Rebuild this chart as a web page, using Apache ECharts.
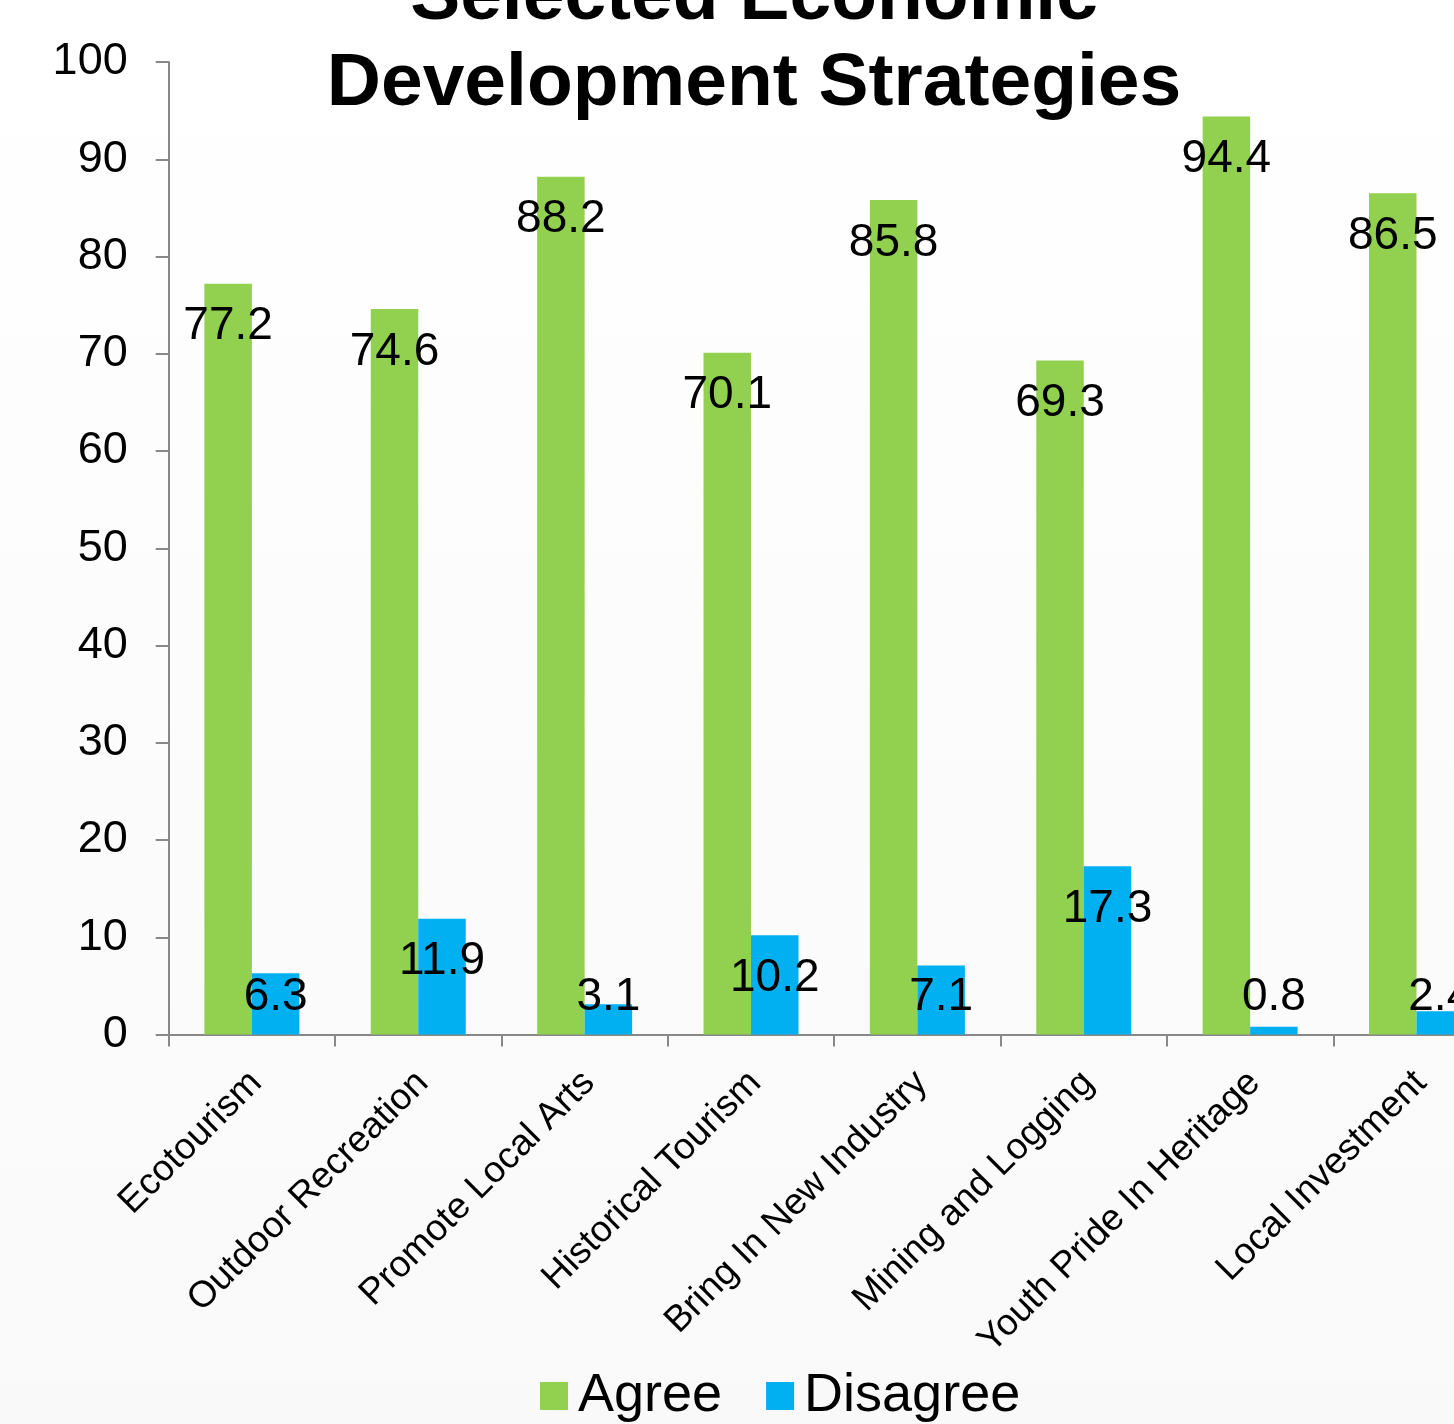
<!DOCTYPE html>
<html>
<head>
<meta charset="utf-8">
<script src="https://cdn.jsdelivr.net/npm/echarts@6/dist/echarts.min.js"></script>
<style>
  html, body { margin: 0; padding: 0; background: #fff; }
  #chart { width: 1454px; height: 1424px; }
</style>
</head>
<body>
<div id="chart"></div>
<script>
// Survey responses on economic development strategies (percent)
const categories = [
  'Ecotourism',
  'Outdoor Recreation',
  'Promote Local Arts',
  'Historical Tourism',
  'Bring In New Industry',
  'Mining and Logging',
  'Youth Pride In Heritage',
  'Local Investment'
];
const agree = [77.2, 74.6, 88.2, 70.1, 85.8, 69.3, 94.4, 86.5];
const disagree = [6.3, 11.9, 3.1, 10.2, 7.1, 17.3, 0.8, 2.4];
const yMin = 0;
const yMax = 100;
const yStep = 10;

const FONT = '"Liberation Sans", Arial, Helvetica, sans-serif';
const AXIS_GREY = '#888888';

const chart = echarts.init(document.getElementById('chart'), null, { renderer: 'canvas' });

// Keep value labels of short bars clear of the category axis
function liftLabel(params) {
  const bottom = params.rect.y + params.rect.height;
  const lr = params.labelRect;
  const centre = lr.y + lr.height / 2;
  const limit = bottom - 37;
  return centre > limit ? { dy: limit - centre } : {};
}

const valueLabel = {
  show: true,
  position: 'insideTop',
  distance: 20,
  color: '#000',
  fontFamily: FONT,
  fontSize: 46,
  formatter: p => p.value.toFixed(1)
};

chart.setOption({
  backgroundColor: new echarts.graphic.LinearGradient(0, 0, 0, 1, [
    { offset: 0, color: '#ffffff' },
    { offset: 1, color: '#f9f9f9' }
  ]),
  animation: false,
  title: {
    text: 'Selected Economic\nDevelopment Strategies',
    left: 754,
    textAlign: 'center',
    top: -45,
    padding: 0,
    textStyle: {
      fontFamily: FONT,
      fontSize: 75,
      fontWeight: 'bold',
      lineHeight: 86,
      color: '#000'
    }
  },
  legend: {
    data: ['Agree', 'Disagree'],
    left: 535,
    top: 1364,
    icon: 'rect',
    itemWidth: 28,
    itemHeight: 28,
    itemGap: 44,
    textStyle: {
      fontFamily: FONT,
      fontSize: 54,
      color: '#000',
      padding: [0, 0, 0, 5]
    }
  },
  grid: {
    left: 168.7,
    right: -45.7,
    top: 62,
    bottom: 389.5,
    outerBoundsMode: 'none',
    containLabel: false
  },
  xAxis: {
    type: 'category',
    data: categories,
    axisLine: { lineStyle: { color: AXIS_GREY, width: 2 } },
    axisTick: { show: true, length: 12, interval: 0, lineStyle: { color: AXIS_GREY, width: 2 } },
    axisLabel: {
      interval: 0,
      rotate: 45,
      margin: 47,
      padding: [0, -6, 0, 0],
      fontFamily: FONT,
      fontSize: 37,
      color: '#000'
    }
  },
  yAxis: {
    type: 'value',
    min: yMin,
    max: yMax,
    interval: yStep,
    axisLine: { show: true, lineStyle: { color: AXIS_GREY, width: 2 } },
    axisTick: { show: true, length: 13, lineStyle: { color: AXIS_GREY, width: 2 } },
    splitLine: { show: false },
    axisLabel: {
      margin: 41,
      fontFamily: FONT,
      fontSize: 45,
      color: '#000'
    }
  },
  series: [
    {
      name: 'Agree',
      type: 'bar',
      data: agree,
      barWidth: 47.5,
      barGap: '0%',
      itemStyle: { color: '#92D050' },
      label: valueLabel,
      labelLayout: liftLabel
    },
    {
      name: 'Disagree',
      type: 'bar',
      data: disagree,
      barWidth: 47.5,
      barGap: '0%',
      itemStyle: { color: '#00B0F0' },
      label: valueLabel,
      labelLayout: liftLabel
    }
  ]
});
</script>
</body>
</html>
